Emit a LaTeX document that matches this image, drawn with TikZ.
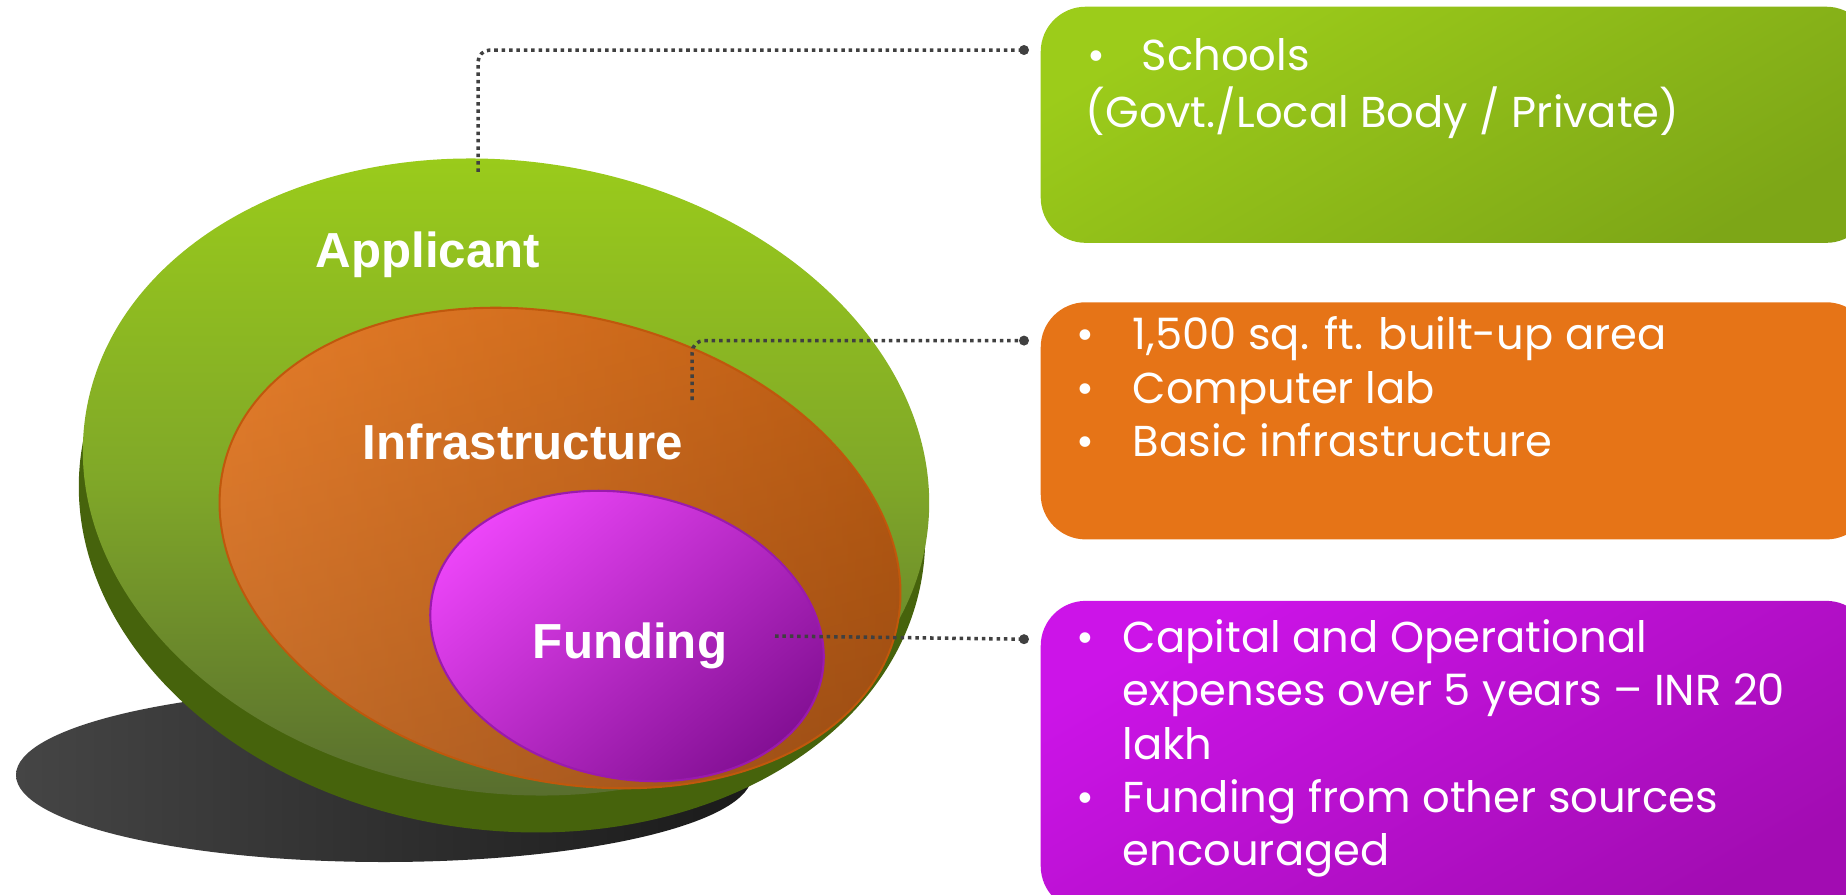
\documentclass[tikz,border=0pt]{standalone}
\usepackage{fontspec}
\usepackage{tikz}
\usetikzlibrary{positioning}
\newfontfamily\boxfont{Poppins}
\newfontfamily\labelfont{Liberation Sans}

\definecolor{shadowL}{HTML}{454545}
\definecolor{shadowR}{HTML}{1A1A1A}
\definecolor{bodygreen}{HTML}{46630C}
\definecolor{faceT}{HTML}{9CCE1A}
\definecolor{faceM}{HTML}{80A828}
\definecolor{faceB}{HTML}{55692F}
\definecolor{orngT}{HTML}{E47214}
\definecolor{orngB}{HTML}{A65416}
\definecolor{orngLite}{HTML}{E8A070}
\definecolor{orngDark}{HTML}{7A3406}
\definecolor{orngLine}{HTML}{C0580C}
\definecolor{purpT}{HTML}{EE46FA}
\definecolor{purpB}{HTML}{820F93}
\definecolor{purpLine}{HTML}{9A1AAE}
\definecolor{boxGreenT}{HTML}{9CCC1A}
\definecolor{boxGreenB}{HTML}{7DA617}
\definecolor{boxOrange}{HTML}{E67417}
\definecolor{boxPurpT}{HTML}{CC14E8}
\definecolor{boxPurpB}{HTML}{A20CB2}
\definecolor{linegray}{HTML}{404040}

\begin{document}
\begin{tikzpicture}[x=0.01cm, y=-0.01cm,
		tag/.style={font=\labelfont\bfseries\fontsize{14}{16}\selectfont, text=white, anchor=base, inner sep=0},
		box/.style={rounded corners=0.45cm, minimum width=8.3cm, inner sep=0},
		boxtext/.style={font=\boxfont\fontsize{12.3}{15.2}\selectfont, text=white, anchor=base west, inner sep=0},
		conn/.style={draw=linegray, line width=1pt, dash pattern=on 1pt off 1.1pt, rounded corners=0.12cm},
		pin/.style={fill=linegray}]
		\useasboundingbox (0,0) rectangle (1846,894);
		\clip (0,0) rectangle (1846,894);
		\shade[left color=shadowL, right color=shadowR] (384,775) ellipse [x radius=368, y radius=87];
		\fill[bodygreen, rotate around={-8:(502,512)}] (502,512) ellipse [x radius=425, y radius=318];
		\shade[top color=faceT, bottom color=faceB, middle color=faceM, rotate around={-8:(506,477)}]
			(506,477) ellipse [x radius=425, y radius=316];
		\shadedraw[top color=orngT, bottom color=orngB, shading angle=15, draw=orngLine, line width=0.6pt,
			rotate around={-14:(560,548)}] (560,548) ellipse [x radius=346, y radius=232];
		\shade[left color=orngLite, right color=orngDark, fill opacity=0.25,
			rotate around={-14:(560,548)}] (560,548) ellipse [x radius=345, y radius=231];
		\shadedraw[top color=purpT, bottom color=purpB, shading angle=40, draw=purpLine, line width=0.6pt,
			rotate around={-12.5:(627,636)}] (627,636) ellipse [x radius=199, y radius=142];
		\node[tag] (applicant) at (428,267) {Applicant};
		\node[tag] (infra) at (523,459) {Infrastructure};
		\node[tag] (funding) at (630,658) {Funding};
		\node[box, anchor=north west, minimum height=2.36cm, top color=boxGreenT, bottom color=boxGreenB,
			shading angle=30] (schools) at (1040,6) {};
		\node[box, minimum height=2.37cm, fill=boxOrange, below=0.58cm of schools] (infraBox) {};
		\node[box, minimum height=3.1cm, top color=boxPurpT, bottom color=boxPurpB, shading angle=30,
			below=0.6cm of infraBox] (fundBox) {};
		\coordinate (applPin) at (478,172);
		\coordinate (applDot) at ([xshift=-0.16cm, yshift=-0.44cm]schools.north west);
		\coordinate (infraPin) at (692,400);
		\coordinate (infraDot) at ([xshift=-0.16cm, yshift=-0.39cm]infraBox.north west);
		\coordinate (fundPin) at (775,636);
		\coordinate (fundDot) at ([xshift=-0.16cm, yshift=-0.39cm]fundBox.north west);
		\draw[conn] (applPin) |- (applDot);
		\draw[conn] (infraPin) |- (infraDot);
		\draw[conn] (fundPin) -- (fundDot);
		\foreach \d in {applDot, infraDot, fundDot}
			\fill[pin] (\d) circle [radius=0.05cm];
		\node[boxtext] (schoolsTxt) at ([shift={(45,65)}]schools.north west)
			{\begin{tabular}[t]{@{}l@{}}
				\makebox[0.56cm][l]{\hspace{0.02cm}\textbullet}Schools\\
				(Govt./Local Body / Private)
			\end{tabular}};
		\node[boxtext] (infraTxt) at ([shift={(36,48)}]infraBox.north west)
			{\begin{tabular}[t]{@{}p{0.56cm}@{}l@{}}
				\textbullet & 1,500 sq. ft. built-up area\\
				\textbullet & Computer lab\\
				\textbullet & Basic infrastructure
			\end{tabular}};
		\node[boxtext] (fundTxt) at ([shift={(36,52)}]fundBox.north west)
			{\begin{tabular}[t]{@{}p{0.46cm}@{}l@{}}
				\textbullet & Capital and Operational\\
				& expenses over 5 years – INR 20\\
				& lakh\\
				\textbullet & Funding from other sources\\
				& encouraged
			\end{tabular}};
	\end{tikzpicture}
\end{document}
